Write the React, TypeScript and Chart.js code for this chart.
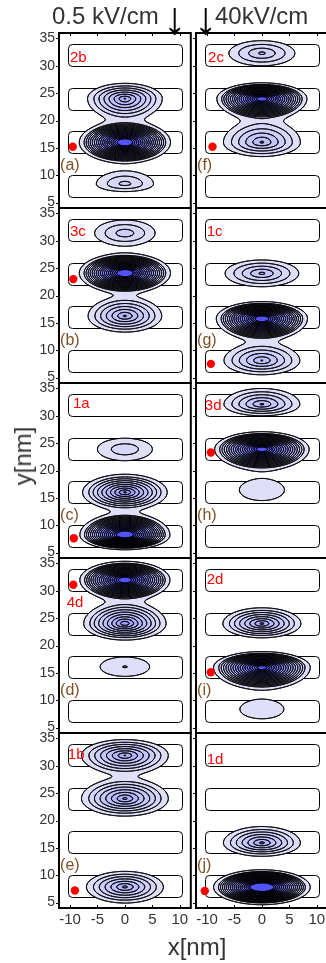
import React, { useEffect, useRef } from "react";
import { Chart, registerables } from "chart.js";

Chart.register(...registerables);

const FONT = '"Liberation Sans", Arial, Helvetica, sans-serif';

// Axes
const X_TICKS = [-10, -5, 0, 5, 10];
const Y_TICKS = [5, 10, 15, 20, 25, 30, 35];
const X_MIN = -12;
const X_MAX = 12;
const Y_MIN = 4;
const Y_MAX = 36;

// Quantum wells (nm)
const WELL_CENTERS = [32, 24, 16, 8];
const WELL_HALF_HEIGHT = 2;
const WELL_HALF_WIDTH = 10.4;

// Contour levels 1..MAX_LEVEL (density above the top level is shown flat)
const MAX_LEVEL = 18;
// Lobe profile: linear core down to TAIL_START, then a soft Gaussian skirt
const TAIL_START = 1.5;
const TAIL_Q = 2.5;

// Density lobes: [centre y, peak (contour steps), half-width at first contour, extent above, extent below]
const LOBES_A = [[24, 8.14, 6.8, 2.8, 3.85], [16, 21.7, 8.3, 3.9, 3.8], [8.4, 3.5, 5.2, 2.3, 1.4]];
const LOBES_B = [[31.4, 3.8, 5.5, 2.4, 2.3], [24.1, 22.0, 8.3, 3.6, 3.66], [16.25, 7.25, 6.7, 3.44, 2.95]];
const LOBES_C = [[23.9, 2.89, 5.0, 2.0, 2.1], [16.0, 10.3, 7.7, 3.3, 3.21], [8.2, 22.25, 8.2, 3.99, 2.7]];
const LOBES_D = [[32.0, 21.1, 8.2, 3.4, 3.77], [24.0, 9.97, 7.5, 3.94, 3.0], [16.1, 2.09, 4.5, 1.8, 1.75]];
const LOBES_E = [[31.9, 8.14, 7.9, 2.9, 3.41], [24.0, 8.37, 7.9, 3.68, 3.2], [7.85, 7.4, 7.0, 2.85, 2.95]];
const LOBES_F = [[32.3, 4.33, 6.0, 2.3, 2.3], [24.0, 20.5, 8.2, 2.9, 3.84], [16.0, 6.26, 7.0, 4.02, 2.6]];
const LOBES_G = [[24.05, 5.35, 6.7, 2.45, 2.45], [15.8, 21.2, 8.3, 3.1, 3.99], [8.1, 6.13, 6.9, 3.16, 2.6]];
const LOBES_H = [[32.1, 6.26, 6.9, 2.9, 2.1], [23.9, 20.5, 8.6, 3.2, 3.8], [16.45, 1.9, 4.1, 1.95, 1.95]];
const LOBES_I = [[24.0, 8.37, 7.1, 2.9, 2.6], [16.0, 20.1, 8.8, 2.9, 4.0], [8.35, 1.9, 4.0, 1.75, 1.75]];
const LOBES_J = [[15.9, 7.4, 7.0, 3.0, 2.45], [7.8, 24, 8.8, 3.2, 3.2]];

const PANEL_LOBES = [LOBES_A, LOBES_B, LOBES_C, LOBES_D, LOBES_E, LOBES_F, LOBES_G, LOBES_H, LOBES_I, LOBES_J];
const PANEL_LETTERS = ["(a)", "(b)", "(c)", "(d)", "(e)", "(f)", "(g)", "(h)", "(i)", "(j)"];
const LETTER_X = -11.8;
const LETTER_Y = 11.7;

const STATE_NAMES = ["2b", "3c", "1a", "4d", "1b", "2c", "1c", "3d", "2d", "1d"];
const STATE_NAME_X = [-10, -10, -9.45, -10.6, -10.4, -9.8, -10.05, -10.4, -10.05, -10.05];
const STATE_NAME_Y = [31.4, 31.6, 32.1, 27.8, 32.0, 31.5, 31.6, 31.8, 32.0, 31.1];

const DOT_X = [-9.5, -9.4, -9.3, -9.4, -9.1, -9.0, -9.3, -9.3, -9.3, -10.4];
const DOT_Y = [15.2, 23.0, 7.6, 31.1, 7.2, 15.2, 7.5, 23.3, 15.1, 7.1];

// Page layout
const ROW_TOP = [33, 208, 383, 558, 733];
const ROW_HEIGHT = 175;
const PAD = 16;
const X_AXIS_H = 30;
const Y_AXIS_W = 59;

const LOW_COLOR = [223, 223, 250];
const HIGH_COLOR = [82, 82, 255];

function bandColor(k: number) {
  const t = Math.max(0, Math.min(1, (k - 1) / (MAX_LEVEL - 1)));
  return [
    Math.round(LOW_COLOR[0] + t * (HIGH_COLOR[0] - LOW_COLOR[0])),
    Math.round(LOW_COLOR[1] + t * (HIGH_COLOR[1] - LOW_COLOR[1])),
    Math.round(LOW_COLOR[2] + t * (HIGH_COLOR[2] - LOW_COLOR[2])),
  ];
}

function makePanelPlugin(index: number, row: number) {
  const lobes = PANEL_LOBES[index].map(([yc, peak, w, up, down]) => {
    const rt = 1 - TAIL_START / peak;
    const rt2 = rt * rt;
    const r1 = Math.sqrt(rt2 + Math.log(TAIL_START) / TAIL_Q);
    return { yc, peak, rt, rt2, rx: w / r1, ru: up / r1, rd: down / r1 };
  });
  return {
    id: "densityPanel" + index,
    beforeDatasetsDraw(chart: any) {
      const { ctx, chartArea, scales } = chart;
      const xs = scales.x;
      const ys = scales.y;
      const { left, top, right, bottom } = chartArea;
      ctx.save();
      ctx.beginPath();
      ctx.rect(left, top, right - left, bottom - top);
      ctx.clip();

      // wells
      ctx.strokeStyle = "#000";
      ctx.lineWidth = 1;
      for (const c of WELL_CENTERS) {
        const x0 = xs.getPixelForValue(-WELL_HALF_WIDTH);
        const x1 = xs.getPixelForValue(WELL_HALF_WIDTH);
        const y0 = ys.getPixelForValue(c + WELL_HALF_HEIGHT);
        const y1 = ys.getPixelForValue(c - WELL_HALF_HEIGHT);
        ctx.beginPath();
        ctx.roundRect(Math.round(x0) + 0.5, Math.round(y0) + 0.5, Math.round(x1 - x0), Math.round(y1 - y0), 4);
        ctx.stroke();
      }

      // sample the density on a half-pixel grid
      const W = Math.round(right - left);
      const H = Math.round(bottom - top);
      const step = 0.5;
      const nx = W * 2 + 1;
      const ny = H * 2 + 1;
      const gx = new Float64Array(nx);
      const gy = new Float64Array(ny);
      for (let i = 0; i < nx; i++) gx[i] = xs.getValueForPixel(left + i * step);
      for (let j = 0; j < ny; j++) gy[j] = ys.getValueForPixel(top + j * step);
      const field = new Float64Array(nx * ny);
      const cutoff = 7 / TAIL_Q;
      for (const l of lobes) {
        const qx = new Float64Array(nx);
        for (let i = 0; i < nx; i++) {
          const d = gx[i] / l.rx;
          qx[i] = d * d;
        }
        for (let j = 0; j < ny; j++) {
          const dy = gy[j] - l.yc;
          const r = dy >= 0 ? l.ru : l.rd;
          const qy = (dy / r) * (dy / r);
          if (qy - l.rt2 > cutoff) continue;
          const base = j * nx;
          for (let i = 0; i < nx; i++) {
            const q = qx[i] + qy;
            if (q <= l.rt2) {
              field[base + i] += l.peak * (1 - Math.sqrt(q));
            } else if (q - l.rt2 < cutoff) {
              field[base + i] += TAIL_START * Math.exp(-TAIL_Q * (q - l.rt2));
            }
          }
        }
      }

      // filled bands
      const off = document.createElement("canvas");
      off.width = W;
      off.height = H;
      const octx = off.getContext("2d")!;
      const img = octx.createImageData(W, H);
      for (let py = 0; py < H; py++) {
        for (let px = 0; px < W; px++) {
          const v = field[(2 * py + 1) * nx + 2 * px + 1];
          const k = Math.min(MAX_LEVEL, Math.floor(v));
          if (k >= 1) {
            const c = bandColor(k);
            const o = (py * W + px) * 4;
            img.data[o] = c[0];
            img.data[o + 1] = c[1];
            img.data[o + 2] = c[2];
            img.data[o + 3] = 255;
          }
        }
      }
      octx.putImageData(img, 0, 0);
      ctx.drawImage(off, left, top);

      // contour lines (marching squares)
      ctx.beginPath();
      for (let j = 0; j < ny - 1; j++) {
        const y0 = top + j * step;
        const y1 = y0 + step;
        for (let i = 0; i < nx - 1; i++) {
          const a = field[j * nx + i];
          const b = field[j * nx + i + 1];
          const c = field[(j + 1) * nx + i + 1];
          const d = field[(j + 1) * nx + i];
          const mn = Math.min(a, b, c, d);
          const mx = Math.max(a, b, c, d);
          if (mx < 1) continue;
          const lo = Math.max(1, Math.ceil(mn));
          const hi = Math.min(MAX_LEVEL, Math.floor(mx));
          if (hi < lo) continue;
          const x0 = left + i * step;
          const x1 = x0 + step;
          for (let L = lo; L <= hi; L++) {
            const code = (a >= L ? 8 : 0) | (b >= L ? 4 : 0) | (c >= L ? 2 : 0) | (d >= L ? 1 : 0);
            if (code === 0 || code === 15) continue;
            const T = () => [x0 + ((L - a) / (b - a)) * step, y0];
            const R = () => [x1, y0 + ((L - b) / (c - b)) * step];
            const B = () => [x0 + ((L - d) / (c - d)) * step, y1];
            const Lf = () => [x0, y0 + ((L - a) / (d - a)) * step];
            const seg = (p: number[], q: number[]) => {
              ctx.moveTo(p[0], p[1]);
              ctx.lineTo(q[0], q[1]);
            };
            switch (code) {
              case 1: case 14: seg(Lf(), B()); break;
              case 2: case 13: seg(B(), R()); break;
              case 3: case 12: seg(Lf(), R()); break;
              case 4: case 11: seg(T(), R()); break;
              case 6: case 9: seg(T(), B()); break;
              case 7: case 8: seg(T(), Lf()); break;
              case 5: seg(T(), Lf()); seg(B(), R()); break;
              case 10: seg(T(), R()); seg(Lf(), B()); break;
            }
          }
        }
      }
      ctx.strokeStyle = "#000";
      ctx.lineWidth = 0.7;
      ctx.lineCap = "round";
      ctx.stroke();
      ctx.restore();
    },
    afterDatasetsDraw(chart: any) {
      const { ctx, scales } = chart;
      ctx.save();
      ctx.font = `15px ${FONT}`;
      ctx.fillStyle = "#ff0000";
      ctx.textAlign = "left";
      ctx.textBaseline = "middle";
      ctx.fillText(
        STATE_NAMES[index],
        scales.x.getPixelForValue(STATE_NAME_X[index]),
        scales.y.getPixelForValue(STATE_NAME_Y[index])
      );
      ctx.restore();
    },
    afterDraw(chart: any) {
      const { ctx, chartArea, scales } = chart;
      const { left, top, right, bottom } = chartArea;
      ctx.save();
      ctx.strokeStyle = "#000";
      ctx.lineWidth = 1;
      ctx.beginPath();
      for (const v of Y_TICKS) {
        const py = Math.round(scales.y.getPixelForValue(v)) + 0.5;
        ctx.moveTo(left - 3, py);
        ctx.lineTo(left, py);
      }
      for (const v of X_TICKS) {
        const px = Math.round(scales.x.getPixelForValue(v)) + 0.5;
        if (row === 0) {
          ctx.moveTo(px, top);
          ctx.lineTo(px, top + 3);
        }
        if (row === 4) {
          ctx.moveTo(px, bottom - 3);
          ctx.lineTo(px, bottom);
        }
      }
      ctx.stroke();
      ctx.lineWidth = 2;
      ctx.strokeRect(left, top, right - left, bottom - top);
      ctx.font = `16px ${FONT}`;
      ctx.fillStyle = "#7d5026";
      ctx.textAlign = "left";
      ctx.textBaseline = "middle";
      ctx.fillText(PANEL_LETTERS[index], scales.x.getPixelForValue(LETTER_X), scales.y.getPixelForValue(LETTER_Y));
      ctx.restore();
    },
  };
}

function Panel({ index }: { index: number }) {
  const ref = useRef<HTMLCanvasElement>(null);
  const col = index < 5 ? 0 : 1;
  const row = index % 5;
  const showX = row === 4;
  const showY = col === 0;
  const canvasLeft = col === 0 ? 0 : 186;
  const canvasWidth = col === 0 ? 195 : 146;
  const bottomPad = showX ? 0 : PAD;
  const canvasHeight = PAD + ROW_HEIGHT + (showX ? X_AXIS_H : PAD);

  useEffect(() => {
    const chart = new Chart(ref.current!, {
      type: "scatter",
      data: {
        datasets: [
          {
            data: [{ x: DOT_X[index], y: DOT_Y[index] }],
            pointRadius: 4.2,
            pointHoverRadius: 4.2,
            backgroundColor: "#ff0000",
            borderWidth: 0,
          },
        ],
      },
      options: {
        responsive: false,
        maintainAspectRatio: false,
        animation: false,
        events: [],
        layout: {
          padding: { left: col === 0 ? 0 : 10, right: 4, top: PAD, bottom: bottomPad },
        },
        plugins: { legend: { display: false }, tooltip: { enabled: false } },
        scales: {
          x: {
            type: "linear",
            min: X_MIN,
            max: X_MAX,
            display: showX,
            grid: { display: false, drawTicks: false },
            border: { display: false },
            afterBuildTicks: (s: any) => {
              s.ticks = X_TICKS.map((v) => ({ value: v }));
            },
            afterFit: (s: any) => {
              s.height = showX ? X_AXIS_H : 0;
            },
            ticks: {
              padding: 3,
              color: "#333",
              font: { family: FONT, size: 15 },
              maxRotation: 0,
              autoSkip: false,
            },
          },
          y: {
            type: "linear",
            min: Y_MIN,
            max: Y_MAX,
            display: showY,
            grid: { display: false, drawTicks: false },
            border: { display: false },
            afterBuildTicks: (s: any) => {
              s.ticks = Y_TICKS.map((v) => ({ value: v }));
            },
            afterFit: (s: any) => {
              s.width = showY ? Y_AXIS_W : 0;
            },
            ticks: {
              padding: 4,
              color: "#333",
              font: { family: FONT, size: 14 },
              autoSkip: false,
            },
          },
        },
      },
      plugins: [makePanelPlugin(index, row)],
    } as any);
    return () => chart.destroy();
  }, [index]);

  return (
    <canvas
      ref={ref}
      width={canvasWidth}
      height={canvasHeight}
      style={{
        position: "absolute",
        left: canvasLeft,
        top: ROW_TOP[row] - PAD,
        width: canvasWidth,
        height: canvasHeight,
      }}
    />
  );
}

const textBase: React.CSSProperties = {
  position: "absolute",
  fontFamily: FONT,
  fontSize: 24,
  lineHeight: "24px",
  whiteSpace: "nowrap",
  color: "#333",
};

const arrowStyle: React.CSSProperties = {
  ...textBase,
  top: -5,
  fontSize: 46,
  lineHeight: "46px",
  color: "#000",
};

export default function App() {
  return (
    <div
      style={{
        position: "absolute",
        left: 0,
        top: 0,
        width: 326,
        height: 963,
        overflow: "hidden",
        background: "#fff",
      }}
    >
      {PANEL_LOBES.map((_, i) => (
        <Panel key={i} index={i} />
      ))}
      <div style={{ ...textBase, left: 52, top: 4 }}>0.5 kV/cm</div>
      <div style={{ ...arrowStyle, left: 163 }}>↓</div>
      <div style={{ ...arrowStyle, left: 194 }}>↓</div>
      <div style={{ ...textBase, left: 215, top: 4 }}>40kV/cm</div>
      <div
        style={{
          ...textBase,
          left: 23,
          top: 456,
          transform: "translate(-50%, -50%) rotate(-90deg)",
        }}
      >
        y[nm]
      </div>
      <div style={{ ...textBase, left: 197, top: 947, transform: "translate(-50%, -50%)" }}>x[nm]</div>
    </div>
  );
}
